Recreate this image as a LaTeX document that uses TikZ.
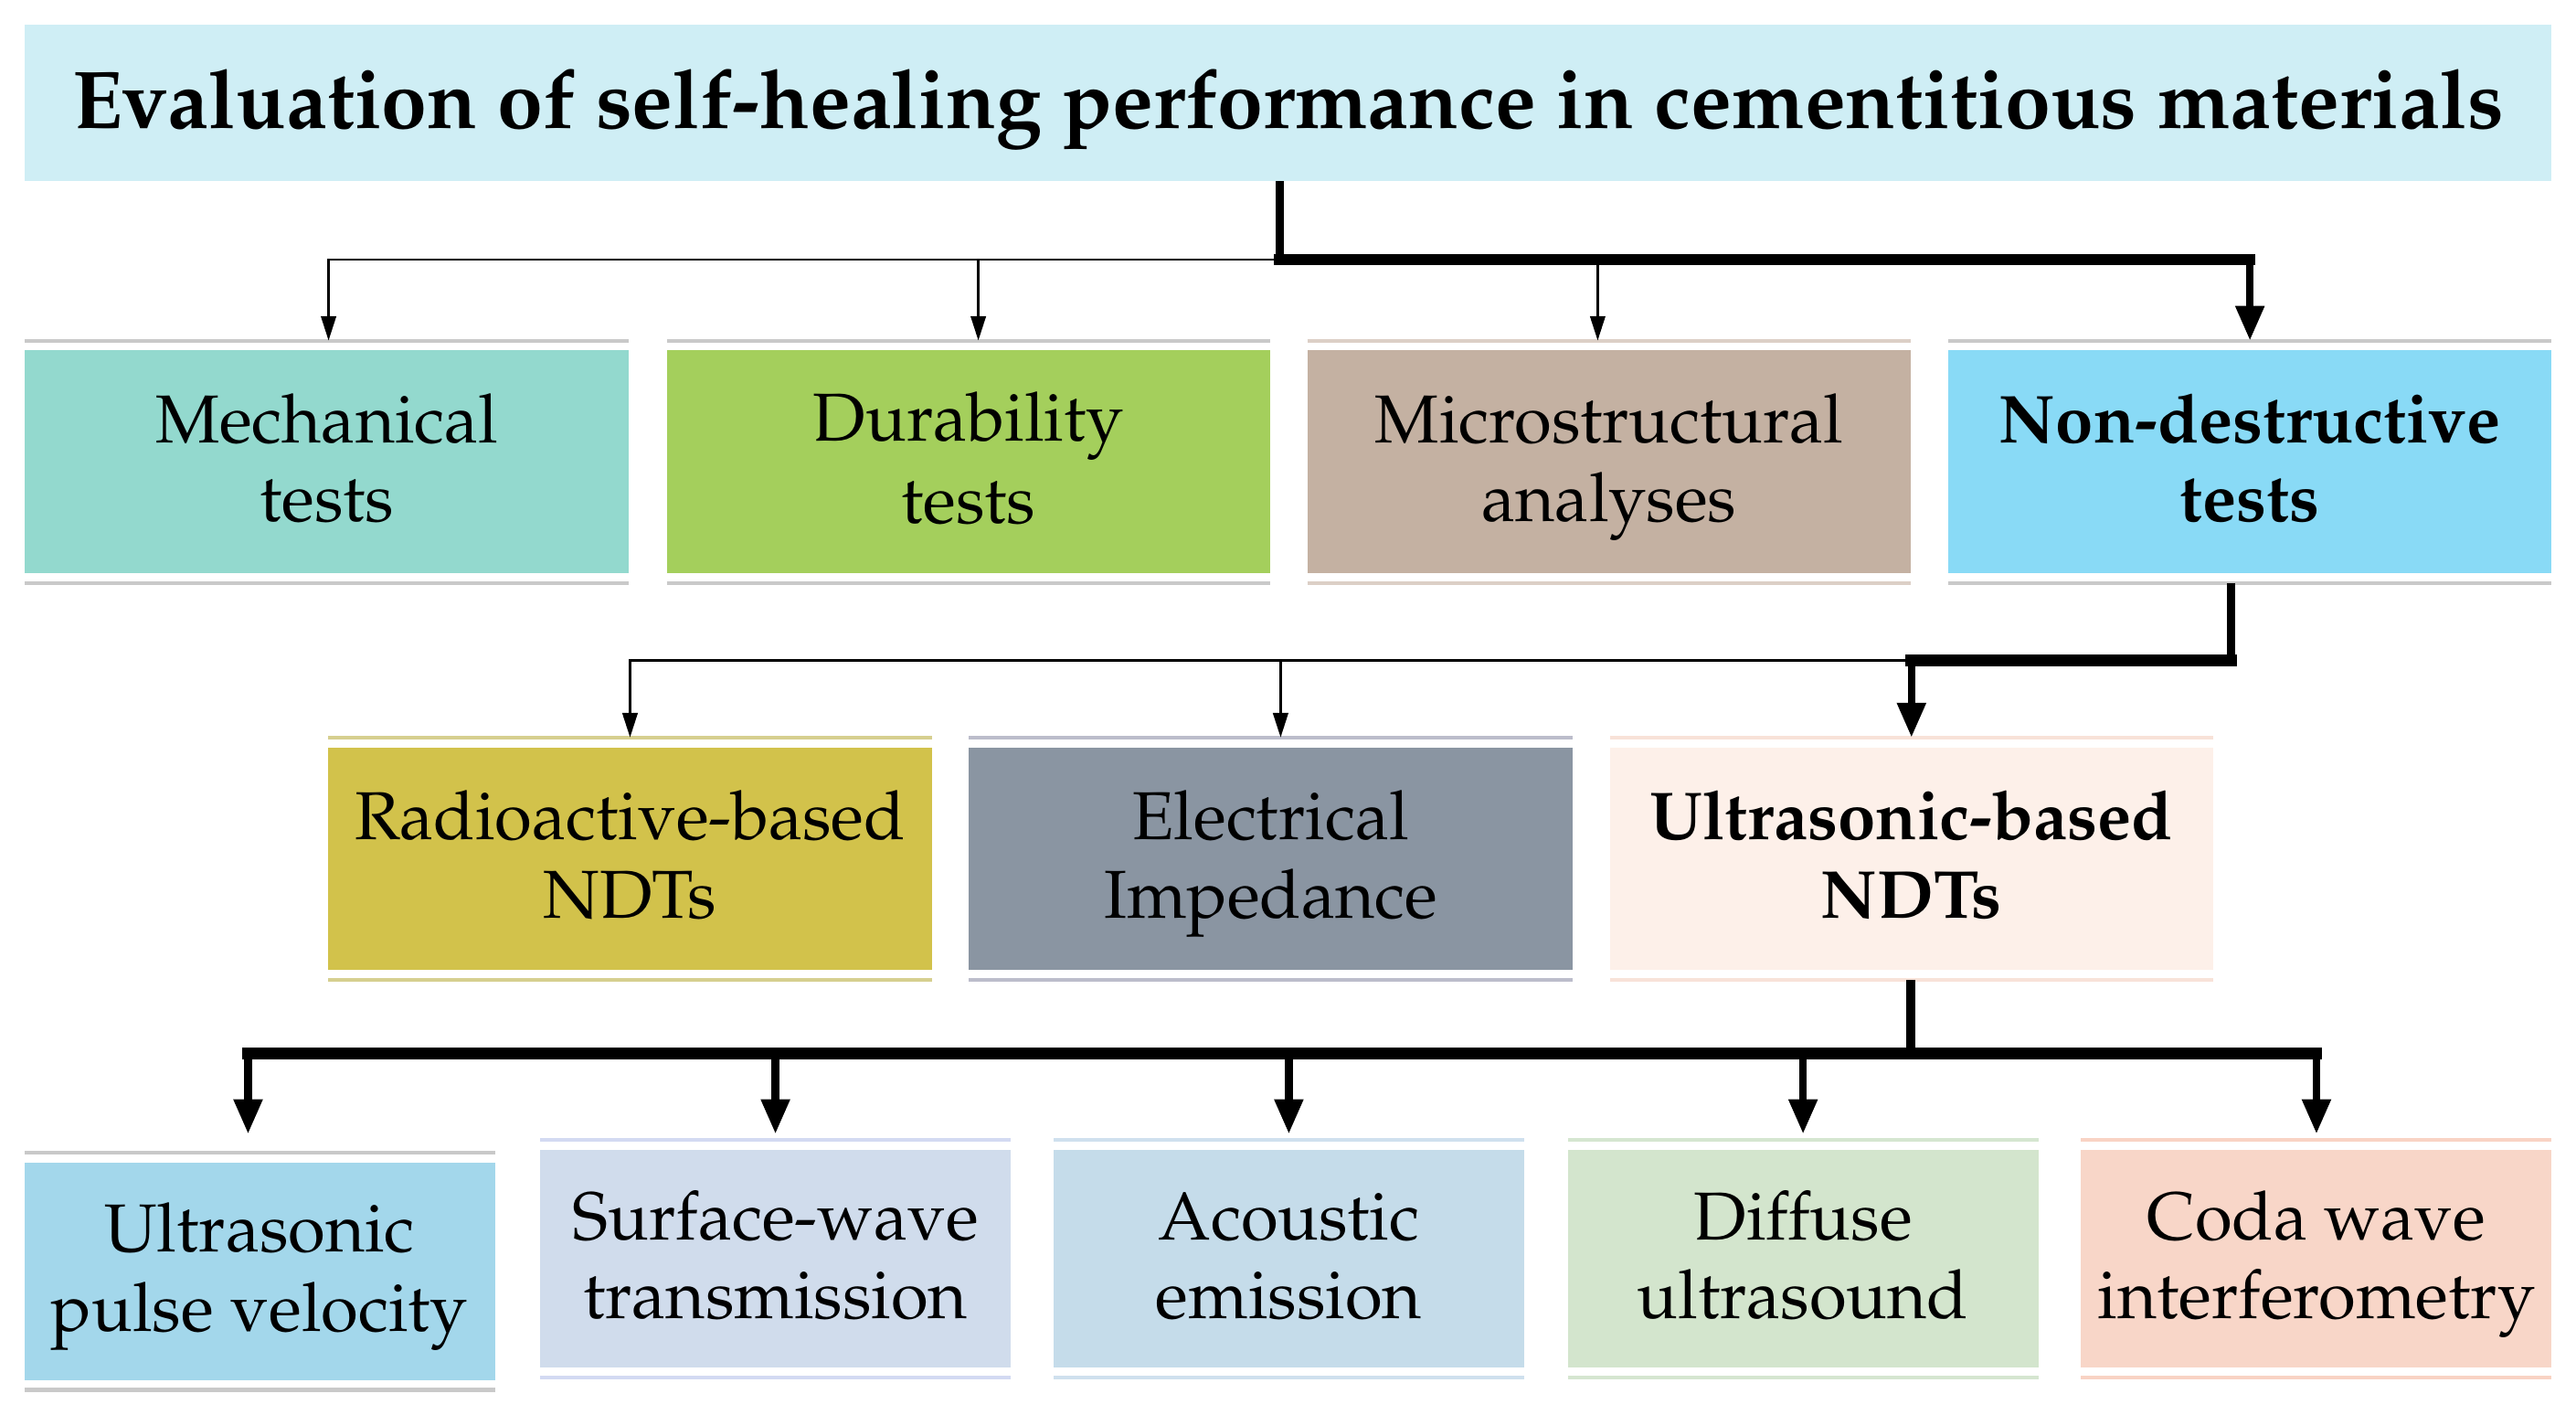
\documentclass[tikz,border=0pt]{standalone}
\usepackage[T1]{fontenc}
\usepackage{mathpazo}
\usetikzlibrary{arrows.meta,calc}
\definecolor{titlefill}{HTML}{CFEEF5}
\definecolor{mechfill}{HTML}{93D9CE}
\definecolor{durfill}{HTML}{A4CF5C}
\definecolor{microfill}{HTML}{C4B1A2}
\definecolor{ndtfill}{HTML}{89DAF6}
\definecolor{radiofill}{HTML}{D2C24B}
\definecolor{elecfill}{HTML}{8A95A2}
\definecolor{ultrafill}{HTML}{FDF0E9}
\definecolor{upvfill}{HTML}{A3D7EB}
\definecolor{surffill}{HTML}{D0DCEC}
\definecolor{acoufill}{HTML}{C5DCEA}
\definecolor{difffill}{HTML}{D3E5CD}
\definecolor{codafill}{HTML}{F8D6C8}
\definecolor{lgray}{HTML}{C9C9C9}
\definecolor{lmicro}{HTML}{DCCFC6}
\definecolor{lradio}{HTML}{D6CF8F}
\definecolor{lelec}{HTML}{BCBDCB}
\definecolor{lultra}{HTML}{F8E2D8}
\definecolor{lsurf}{HTML}{D3DAF2}
\definecolor{lacou}{HTML}{CFE0EE}
\definecolor{ldiff}{HTML}{D5E6D0}
\definecolor{lcoda}{HTML}{F9D3C4}
\newcommand\ls{\rule[-0.24\baselineskip]{0pt}{\baselineskip}}
\begin{document}
\begin{tikzpicture}[x=0.02cm,y=-0.02cm,
  boxbase/.style={rectangle, inner sep=0pt, outer xsep=0pt, outer ysep=0.12cm,
    align=center, font=\fontsize{23.5}{27.3}\selectfont},
  wide/.style={boxbase, minimum width=7.35cm, minimum height=2.71cm},
  narrow/.style={boxbase, minimum width=5.73cm, minimum height=2.65cm},
  thinarrow/.style={line width=0.9pt, -{Triangle[length=8.5pt,width=5.2pt]}},
  thickbus/.style={line width=4pt, line cap=rect},
  thicktrunk/.style={line width=3pt},
  thickarrow/.style={line width=2.6pt, -{Triangle[length=12pt,width=9.5pt]}},
  shelf/.style={line width=1.3pt}
]
\useasboundingbox (0,0) rectangle (1568,861);

% title
\node[rectangle, fill=titlefill, inner sep=0pt, minimum width=30.76cm, minimum height=1.9cm,
  text height=0.78cm, text depth=0.16cm,
  font=\fontsize{28.4}{33}\selectfont\bfseries] (title) at (784,62.5)
  {Evaluation of self-healing performance in cementitious materials};

% row 1
\node[wide, fill=mechfill]  (mech)  at (199,281)    {\ls Mechanical\\\ls tests};
\node[wide, fill=durfill]   (dur)   at (589.5,281)  {\ls Durability\\\ls tests};
\node[wide, fill=microfill] (micro) at (979.5,281)  {\ls Microstructural\\\ls analyses};
\node[wide, fill=ndtfill, font=\fontsize{23.5}{27.3}\selectfont\bfseries] (ndt) at (1369.5,281) {\ls Non-destructive\\\ls tests};

% row 2
\node[wide, fill=radiofill] (radio) at (383.5,522.5) {\ls Radioactive-based\\\ls NDTs};
\node[wide, fill=elecfill]  (elec)  at (773.5,522.5) {\ls Electrical\\\ls Impedance};
\node[wide, fill=ultrafill, font=\fontsize{23.5}{27.3}\selectfont\bfseries] (ultra) at (1163.5,522.5) {\ls Ultrasonic-based\\\ls NDTs};

% row 3
\node[narrow, fill=upvfill]  (upv)  at (158,773.5)  {\ls Ultrasonic\\\ls pulse velocity};
\node[narrow, fill=surffill] (surf) at (472,766)    {\ls Surface-wave\\\ls transmission};
\node[narrow, fill=acoufill] (acou) at (784.5,766)  {\ls Acoustic\\\ls emission};
\node[narrow, fill=difffill] (diff) at (1097.5,766) {\ls Diffuse\\\ls ultrasound};
\node[narrow, fill=codafill] (coda) at (1410,766)   {\ls Coda wave\\\ls interferometry};

% shelves above and below boxes
\foreach \n/\c in {mech/lgray, dur/lgray, micro/lmicro, ndt/lgray,
                   radio/lradio, elec/lelec, ultra/lultra,
                   upv/lgray, surf/lsurf, acou/lacou, diff/ldiff, coda/lcoda}
  \draw[shelf, draw=\c] (\n.north west) -- (\n.north east)
                        (\n.south west) -- (\n.south east);

% connectors level 1
\coordinate (j1) at (779,158);
\draw[thinarrow] (j1) -| ($(mech.north)+(1,0)$);
\draw[thinarrow] (j1) -| ($(dur.north)+(6,0)$);
\draw[thinarrow] (j1) -| ($(micro.north)+(-7,0)$);
\draw[thicktrunk] (title.south -| j1) -- (j1);
\draw[thickbus] (j1) -- (ndt.north |- j1);
\draw[thickarrow] (ndt.north |- j1) -- (ndt.north);

% connectors level 2
\coordinate (j2) at (1358,402);
\draw[thinarrow] (ultra.north |- j2) -| (radio.north);
\draw[thinarrow] (ultra.north |- j2) -| ($(elec.north)+(6,0)$);
\draw[thicktrunk] (ndt.south -| j2) -- (j2);
\draw[thickbus] (j2) -- (ultra.north |- j2);
\draw[thickarrow] (ultra.north |- j2) -- (ultra.north);

% connectors level 3
\coordinate (j3) at (1163,641);
\coordinate (tip) at (0,690);
\draw[thicktrunk] (ultra.south -| j3) -- (j3);
\draw[thickbus] ($(upv.north |- j3)+(-7,0)$) -- (coda.north |- j3);
\draw[thickarrow] ($(upv.north |- j3)+(-7,0)$) -- ($(upv.north |- tip)+(-7,0)$);
\draw[thickarrow] (surf.north |- j3) -- (surf.north |- tip);
\draw[thickarrow] (acou.north |- j3) -- (acou.north |- tip);
\draw[thickarrow] (diff.north |- j3) -- (diff.north |- tip);
\draw[thickarrow] (coda.north |- j3) -- (coda.north |- tip);
\end{tikzpicture}
\end{document}
